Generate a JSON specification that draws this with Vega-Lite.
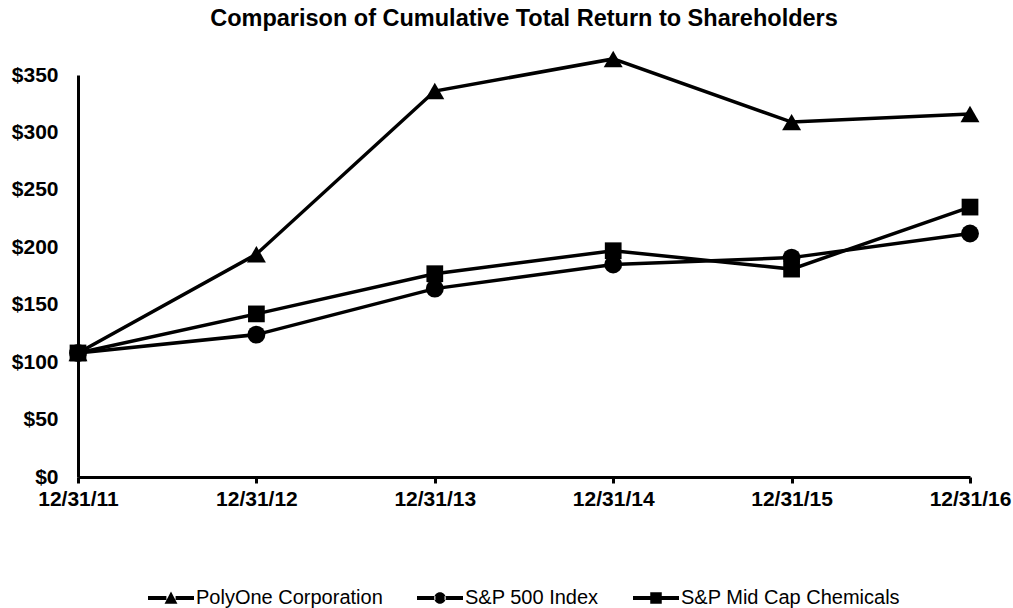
{
  "$schema": "https://vega.github.io/schema/vega-lite/v6.json",
  "autosize": "none",
  "padding": {"left": 78, "top": 75, "right": 43, "bottom": 131},
  "width": 892,
  "height": 402,
  "background": "white",
  "title": {
    "text": "Comparison of Cumulative Total Return to Shareholders",
    "font": "Liberation Sans",
    "fontSize": 23.5,
    "fontWeight": "bold",
    "color": "black",
    "anchor": "middle",
    "frame": "group",
    "offset": 20
  },
  "config": {
    "view": {"stroke": null},
    "font": "Liberation Sans"
  },
  "data": {
    "values": [
      {"date": "12/31/11", "series": "PolyOne Corporation", "value": 108},
      {"date": "12/31/12", "series": "PolyOne Corporation", "value": 194},
      {"date": "12/31/13", "series": "PolyOne Corporation", "value": 336},
      {"date": "12/31/14", "series": "PolyOne Corporation", "value": 364},
      {"date": "12/31/15", "series": "PolyOne Corporation", "value": 309},
      {"date": "12/31/16", "series": "PolyOne Corporation", "value": 316},
      {"date": "12/31/11", "series": "S&P 500 Index", "value": 108},
      {"date": "12/31/12", "series": "S&P 500 Index", "value": 124},
      {"date": "12/31/13", "series": "S&P 500 Index", "value": 164},
      {"date": "12/31/14", "series": "S&P 500 Index", "value": 185},
      {"date": "12/31/15", "series": "S&P 500 Index", "value": 191},
      {"date": "12/31/16", "series": "S&P 500 Index", "value": 212},
      {"date": "12/31/11", "series": "S&P Mid Cap Chemicals", "value": 108},
      {"date": "12/31/12", "series": "S&P Mid Cap Chemicals", "value": 142},
      {"date": "12/31/13", "series": "S&P Mid Cap Chemicals", "value": 177},
      {"date": "12/31/14", "series": "S&P Mid Cap Chemicals", "value": 197},
      {"date": "12/31/15", "series": "S&P Mid Cap Chemicals", "value": 181},
      {"date": "12/31/16", "series": "S&P Mid Cap Chemicals", "value": 235}
    ]
  },
  "encoding": {
    "x": {
      "field": "date",
      "type": "ordinal",
      "sort": null,
      "scale": {"type": "point", "padding": 0},
      "axis": {
        "title": null,
        "labelAngle": 0,
        "labelFont": "Liberation Sans",
        "labelFontSize": 21,
        "labelFontWeight": "bold",
        "labelColor": "black",
        "labelPadding": 5,
        "domainColor": "black",
        "domainWidth": 3,
        "tickColor": "black",
        "tickWidth": 3,
        "tickSize": 6,
        "grid": false
      }
    },
    "y": {
      "field": "value",
      "type": "quantitative",
      "scale": {"domain": [0, 350], "nice": false},
      "axis": {
        "title": null,
        "values": [0, 50, 100, 150, 200, 250, 300, 350],
        "labelExpr": "'$' + datum.value",
        "labelFont": "Liberation Sans",
        "labelFontSize": 21,
        "labelFontWeight": "bold",
        "labelColor": "black",
        "labelPadding": 20,
        "ticks": false,
        "domainColor": "black",
        "domainWidth": 3,
        "grid": false
      }
    }
  },
  "layer": [
    {
      "mark": {"type": "line", "color": "black", "strokeWidth": 3.5},
      "encoding": {"detail": {"field": "series"}}
    },
    {
      "mark": {"type": "point", "filled": true, "color": "black", "opacity": 1},
      "encoding": {
        "shape": {
          "field": "series",
          "type": "nominal",
          "scale": {
            "domain": ["PolyOne Corporation", "S&P 500 Index", "S&P Mid Cap Chemicals"],
            "range": ["triangle-up", "circle", "square"]
          },
          "legend": null
        },
        "size": {
          "field": "series",
          "type": "nominal",
          "scale": {
            "domain": ["PolyOne Corporation", "S&P 500 Index", "S&P Mid Cap Chemicals"],
            "range": [360, 280, 330]
          },
          "legend": null
        }
      }
    },
    {
      "transform": [{"filter": "datum.value < 0"}],
      "mark": {"type": "point", "filled": true, "color": "black"},
      "encoding": {
        "shape": {
          "field": "series",
          "type": "nominal",
          "scale": {
            "domain": ["PolyOne Corporation", "S&P 500 Index", "S&P Mid Cap Chemicals"],
            "range": [
              "M-1,-0.09H-0.2V0.09H-1Z M0.2,-0.09H1V0.09H0.2Z M-0.28,0.25L0,-0.28L0.28,0.25Z",
              "M-1,-0.09H-0.2V0.09H-1Z M0.2,-0.09H1V0.09H0.2Z M-0.25,0A0.25,0.25 0 1,0 0.25,0A0.25,0.25 0 1,0 -0.25,0Z",
              "M-1,-0.09H-0.2V0.09H-1Z M0.2,-0.09H1V0.09H0.2Z M-0.25,-0.25H0.25V0.25H-0.25Z"
            ]
          },
          "legend": {
            "title": null,
            "orient": "none",
            "legendX": 70,
            "legendY": 500,
            "direction": "horizontal",
            "symbolSize": 2116,
            "symbolFillColor": "black",
            "symbolStrokeColor": "black",
            "symbolStrokeWidth": 0,
            "symbolOpacity": 1,
            "labelFont": "Liberation Sans",
            "labelFontSize": 20,
            "labelColor": "black",
            "labelOffset": 2,
            "columnPadding": 34,
            "labelLimit": 400
          }
        }
      }
    }
  ],
  "resolve": {"scale": {"shape": "independent"}, "legend": {"shape": "independent"}}
}
